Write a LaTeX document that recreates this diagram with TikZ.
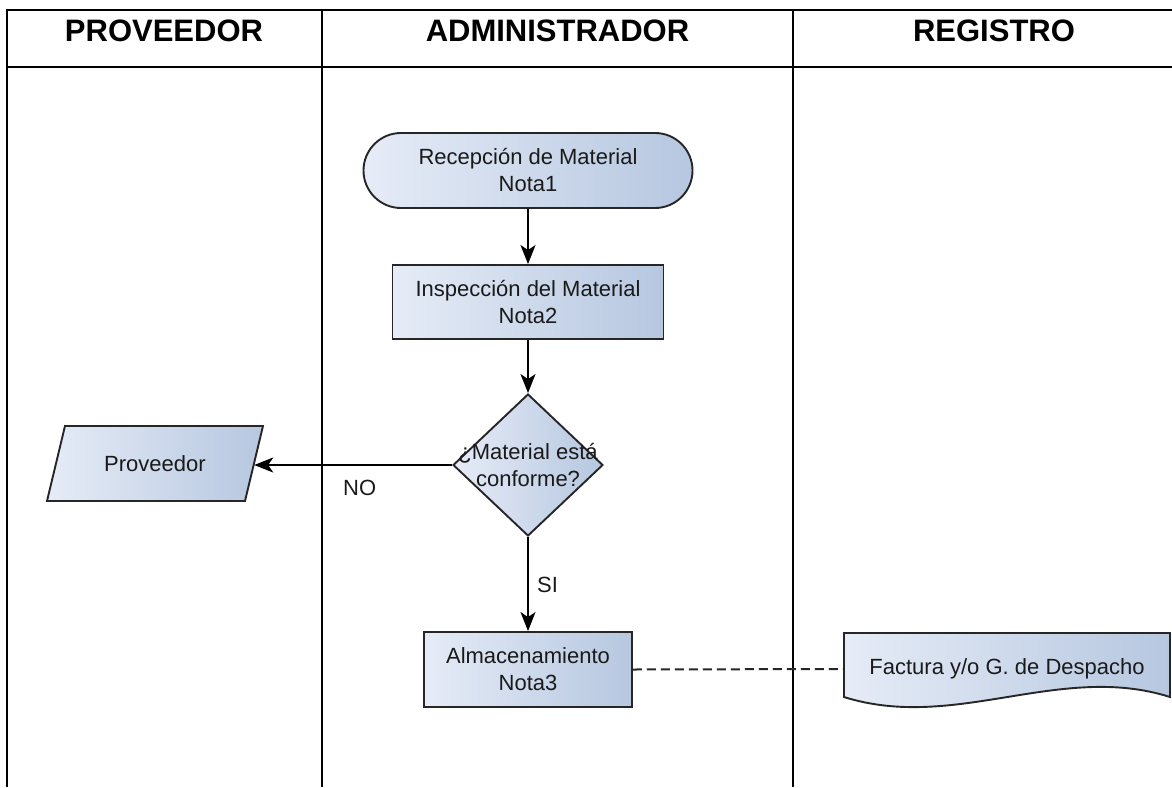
\documentclass[tikz,border=0pt]{standalone}
\usepackage{fontspec}
\setmainfont{Liberation Sans}
\usetikzlibrary{shapes.geometric,shapes.misc,arrows.meta}

\definecolor{edge}{HTML}{262626}
\definecolor{fillL}{HTML}{E6ECF7}
\definecolor{fillR}{HTML}{B6C7E0}
\definecolor{ink}{HTML}{1A1A1A}

\begin{document}
\begin{tikzpicture}[x=1pt,y=-1pt,
  lane/.style={line width=2.8pt, black},
  head/.style={font=\fontsize{31}{36}\selectfont\bfseries, anchor=base, inner sep=0pt},
  fillshade/.style={left color=fillL, right color=fillR, draw=edge, line width=1.9pt},
  txt/.style={font=\fontsize{22}{27}\selectfont, text=ink, align=center, inner sep=0pt},
  proc/.style={rectangle, fillshade, txt},
  flow/.style={line width=1.9pt, black, -{Stealth[length=19pt,width=15pt,inset=5pt]}},
  tag/.style={font=\fontsize{22}{26}\selectfont, text=ink, inner sep=0pt},
  docline/.style={line width=2pt, edge, dash pattern=on 9pt off 5pt}
]
\useasboundingbox (0,0) rectangle (1172,787);
\clip (0,0) rectangle (1172,787);

% swimlane table
\draw[lane] (7,787) -- (7,10) -- (1200,10);
\draw[lane] (7,67) -- (1200,67);
\draw[lane] (322,10) -- (322,787);
\draw[lane] (793,10) -- (793,787);

% lane headings
\node[head] (hprov) at (164,41) {PROVEEDOR};
\node[head] (hadm) at (557.5,41) {ADMINISTRADOR};
\node[head] (hreg) at (994,41) {REGISTRO};

% process flow
\node[rounded rectangle, fillshade, txt, minimum width=329pt, minimum height=75pt]
  (recep) at (528,170.5) {Recepción de Material\\Nota1};
\node[proc, minimum width=271pt, minimum height=74pt]
  (insp) at (528,302) {Inspección del Material\\Nota2};
\node[diamond, fillshade, minimum width=150pt, minimum height=142pt, inner sep=0pt]
  (dec) at (528,465) {};
\node[txt] (dectxt) at (dec.center) {¿Material está\\conforme?};
\node[proc, minimum width=208pt, minimum height=75pt]
  (alm) at (528,669.5) {Almacenamiento\\Nota3};

% supplier (data shape)
\path[fillshade] (65,426) -- (263,426) -- (245,501) -- (47,501) -- cycle;
\node[txt, minimum width=198pt, minimum height=75pt] (prov) at (155,463.5) {Proveedor};

% document shape
\path[fillshade] (844,633) -- (1170,633) -- (1170,697)
  .. controls (1060,662) and (955,732) .. (844,697) -- cycle;
\node[txt, minimum width=326pt, minimum height=72pt] (doc) at (1007,669) {Factura y/o G. de Despacho};

% connectors
\draw[flow] (recep) -- (insp);
\draw[flow] (insp) -- (dec);
\draw[flow] (dec.west) -- (dec.west -| prov.east);
\draw[flow] (dec) -- (alm);
\draw[docline] (alm.east) -- (doc.west);

% branch labels
\node[tag, anchor=base west] (no) at (343,495) {NO};
\node[tag, anchor=base west] (si) at (537,592) {SI};
\end{tikzpicture}
\end{document}
